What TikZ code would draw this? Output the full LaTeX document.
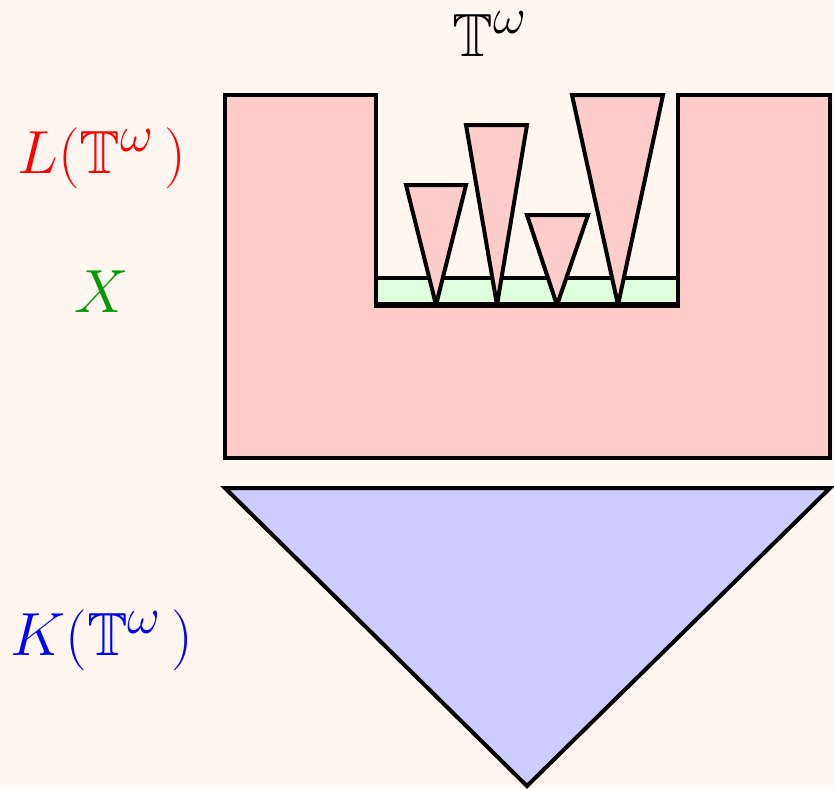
\documentclass[tikz,border=0pt]{standalone}
\usepackage{amssymb}
\definecolor{bgc}{HTML}{FFF7F0}
\definecolor{pinkc}{HTML}{FFCCCC}
\definecolor{greenc}{HTML}{DDFFDD}
\definecolor{bluec}{HTML}{CCCCFF}
\definecolor{xgreen}{HTML}{009900}
\tikzset{
  outl/.style={draw=black, line width=4pt, line join=miter},
  cone/.style={outl, fill=pinkc, miter limit=2},
  lbl/.style={font=\Huge, inner sep=0pt, scale=2.45, transform shape}
}
\begin{document}
\begin{tikzpicture}[x=1pt,y=-1pt]
\fill[bgc] (0,0) rectangle (834,788);
\useasboundingbox (0,0) rectangle (834,788);
% big pink region with notch
\draw[outl, fill=pinkc] (225,95) -- (376,95) -- (376,305) -- (678,305) -- (678,95) -- (830,95) -- (830,458) -- (225,458) -- cycle;
% green strip
\draw[outl, fill=greenc, line width=3.5pt] (376,278) rectangle (678,305);
% inverted triangles
\draw[cone] (406,185) -- (466,185) -- (436,305) -- cycle;
\draw[cone] (466,125) -- (527,125) -- (497,305) -- cycle;
\draw[cone] (527,215) -- (588,215) -- (557,305) -- cycle;
\draw[cone] (572,95) -- (663,95) -- (618,305) -- cycle;
\draw[line width=6pt] (374,305) -- (680,305);
% blue triangle
\draw[outl, fill=bluec] (225,488) -- (830,488) -- (527,786) -- cycle;
% labels
\node[lbl] (top) at (490,34) {$\mathbb{T}^\omega$};
\node[lbl, text=red] (L) at (102,158) {$L(\mathbb{T}^{\omega}\,)$};
\node[lbl, text=xgreen] (X) at (102,292) {$X$};
\node[lbl, text=blue] (K) at (102,640) {$K(\mathbb{T}^{\omega}\,)$};
\end{tikzpicture}
\end{document}
